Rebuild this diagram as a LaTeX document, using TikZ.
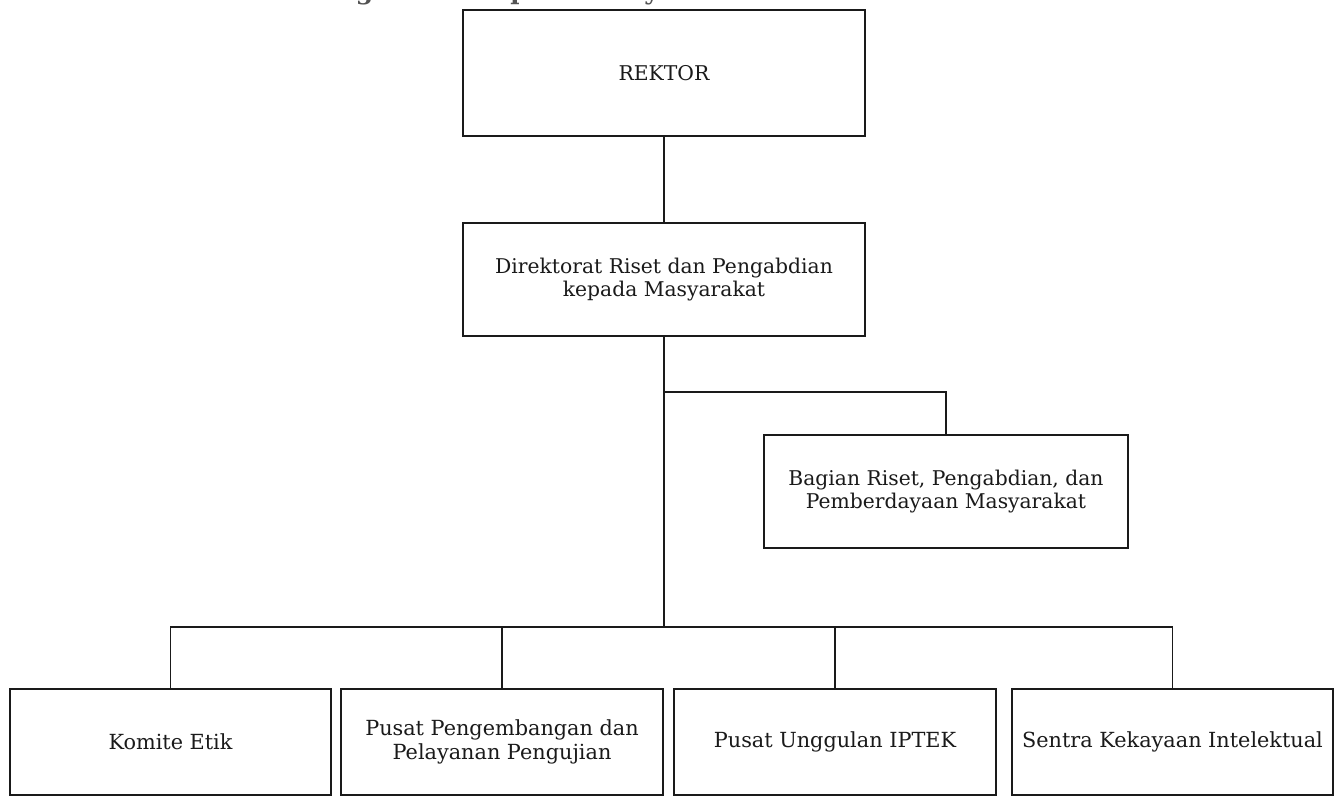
\documentclass[tikz,border=0pt]{standalone}
\usepackage{fontspec}
\setmainfont{DejaVu Serif}
\definecolor{ink}{HTML}{1A1A1A}
\begin{document}
\begin{tikzpicture}[x=1pt,y=-1pt,
  box/.style={draw=ink, line width=1.6pt, inner sep=0pt, align=center, text=ink,
    font=\fontsize{20.3}{23}\selectfont},
  lowbox/.style={box, font=\fontsize{20.8}{24}\selectfont},
  link/.style={draw=ink, line width=1.6pt}]
\useasboundingbox (0,0) rectangle (1336,799);
\fill[white] (0,0) rectangle (1336,799);
\begin{scope}
\clip (0,0) rectangle (1336,799);
\node[anchor=base west, inner sep=0pt, text=ink!75, font=\bfseries\fontsize{25}{30}\selectfont] (hdr) at (7,0) {Direktorat Riset dan Pengabdian kepada Masyarakat};
\end{scope}
\node[box, minimum width=402, minimum height=126] (rektor) at (664,73) {REKTOR};
\node[box, minimum width=402, minimum height=113] (dir) at (664,279.5) {Direktorat Riset dan Pengabdian\\kepada Masyarakat};
\node[box, minimum width=364, minimum height=113] (bag) at (946,491.5) {Bagian Riset, Pengabdian, dan\\Pemberdayaan Masyarakat};
\node[lowbox, minimum width=321, minimum height=106] (k1) at (170.5,742) {Komite Etik};
\node[lowbox, minimum width=322, minimum height=106] (k2) at (502,742) {Pusat Pengembangan dan\\Pelayanan Pengujian};
\node[lowbox, minimum width=322, minimum height=106] (k3) at (835,742) {Pusat Unggulan IPTEK};
\node[lowbox, minimum width=321, minimum height=106] (k4) at (1172.5,742) {Sentra Kekayaan Intelektual};
\coordinate (b1) at (664,392);
\coordinate (j) at (664,627);
\draw[link] (rektor.south) -- (dir.north);
\draw[link] (dir.south) -- (j);
\draw[link] (b1) -| (bag.north);
\draw[link] (k1.north) |- (j);
\draw[link] (k4.north) |- (j);
\draw[link] (k2.north) -- (k2.north |- j);
\draw[link] (k3.north) -- (k3.north |- j);
\end{tikzpicture}
\end{document}
